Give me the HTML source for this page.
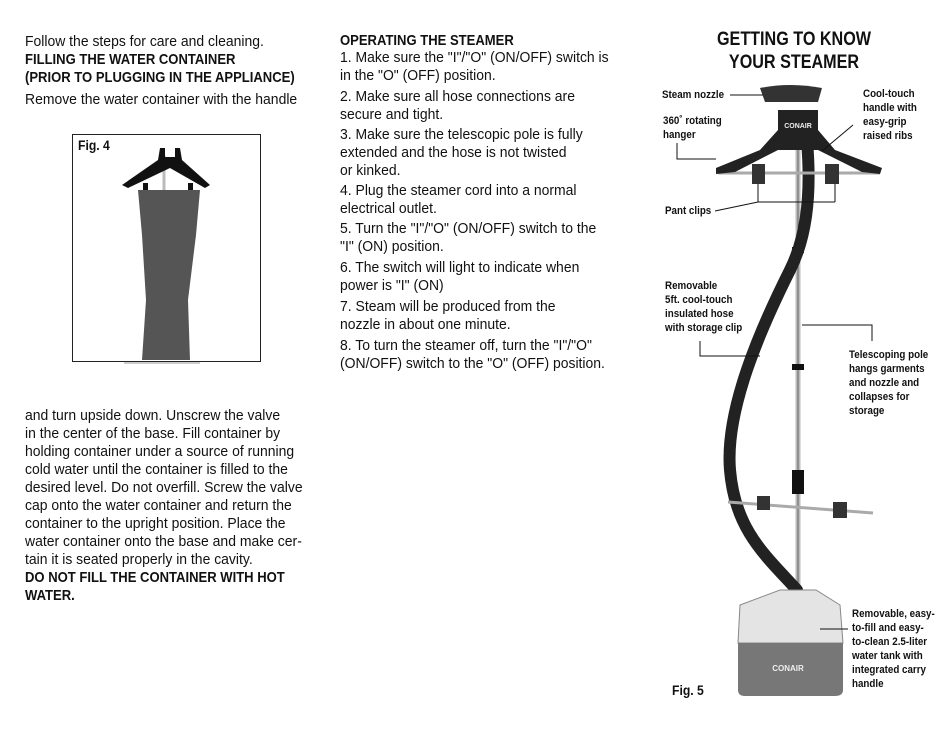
<!DOCTYPE html>
<html><head><meta charset="utf-8"><style>
body{margin:0;width:950px;height:732px;background:#fff;position:relative;overflow:hidden;font-family:"Liberation Sans",sans-serif;color:#111}
.t{position:absolute;font-size:15px;line-height:18px;white-space:nowrap;transform:scaleX(0.93);transform-origin:0 0}
.b{font-weight:bold;transform:scaleX(0.87)}
.s{position:absolute;font-size:11px;line-height:14px;font-weight:bold;white-space:nowrap;transform:scaleX(0.89);transform-origin:0 0}
</style></head><body>
<div class="t" style="left:25px;top:33px">Follow the steps for care and cleaning.</div>
<div class="t b" style="left:25px;top:51px">FILLING THE WATER CONTAINER<br>(PRIOR TO PLUGGING IN THE APPLIANCE)</div>
<div class="t" style="left:25px;top:91px">Remove the water container with the handle</div>
<div class="t" style="left:25px;top:407px">and turn upside down. Unscrew the valve<br>in the center of the base. Fill container by<br>holding container under a source of running<br>cold water until the container is filled to the<br>desired level. Do not overfill. Screw the valve<br>cap onto the water container and return the<br>container to the upright position. Place the<br>water container onto the base and make cer-<br>tain it is seated properly in the cavity.</div>
<div class="t b" style="left:25px;top:569px">DO NOT FILL THE CONTAINER WITH HOT<br>WATER.</div>

<div class="t b" style="left:340px;top:32px">OPERATING THE STEAMER</div>
<div class="t" style="left:340px;top:49px">1. Make sure the "I"/"O" (ON/OFF) switch is<br>in the "O" (OFF) position.</div>
<div class="t" style="left:340px;top:88px">2. Make sure all hose connections are<br>secure and tight.</div>
<div class="t" style="left:340px;top:126px">3. Make sure the telescopic pole is fully<br>extended and the hose is not twisted<br>or kinked.</div>
<div class="t" style="left:340px;top:182px">4. Plug the steamer cord into a normal<br>electrical outlet.</div>
<div class="t" style="left:340px;top:220px">5. Turn the "I"/"O" (ON/OFF) switch to the<br>"I" (ON) position.</div>
<div class="t" style="left:340px;top:259px">6. The switch will light to indicate when<br>power is "I" (ON)</div>
<div class="t" style="left:340px;top:298px">7. Steam will be produced from the<br>nozzle in about one minute.</div>
<div class="t" style="left:340px;top:337px">8. To turn the steamer off, turn the "I"/"O"<br>(ON/OFF) switch to the "O" (OFF) position.</div>

<div style="position:absolute;left:690px;top:28px;width:208px;text-align:center;font-size:19px;line-height:23px;font-weight:bold;transform:scaleX(0.85);transform-origin:center 0">GETTING TO KNOW<br>YOUR STEAMER</div>

<div style="position:absolute;left:72px;top:134px;width:187px;height:226px;border:1px solid #222"></div>
<div class="t b" style="left:78px;top:136px;font-size:14px">Fig. 4</div>

<svg width="950" height="732" style="position:absolute;left:0;top:0">
<line x1="164" y1="155" x2="164" y2="190" stroke="#bbb" stroke-width="3"/>
<path d="M122,185 L158,160 L160,148 L165,148 L165,157 L175,157 L175,148 L180,148 L182,160 L210,185 L205,188 L170,168 L128,188Z" fill="#111"/>
<rect x="143" y="183" width="5" height="8" fill="#111"/><rect x="188" y="183" width="5" height="8" fill="#111"/>
<path d="M138,190 L200,190 L196,235 L188,300 L190,360 L142,360 L146,300 L142,235Z" fill="#555"/>
<line x1="124" y1="363" x2="200" y2="363" stroke="#999"/>
<line x1="798" y1="141" x2="798" y2="696" stroke="#bbb" stroke-width="5"/>
<line x1="798" y1="141" x2="798" y2="696" stroke="#666" stroke-width="1"/>
<rect x="792" y="247" width="12" height="6" fill="#111"/>
<rect x="792" y="364" width="12" height="6" fill="#111"/>
<rect x="792" y="470" width="12" height="24" fill="#111"/>
<path d="M807,141 C812,200 805,240 790,270 C760,330 725,410 730,470 C735,530 765,555 797,590" fill="none" stroke="#222" stroke-width="12" stroke-linecap="round"/>
<line x1="718" y1="173" x2="880" y2="173" stroke="#aaa" stroke-width="3"/>
<path d="M716,168 L760,150 L778,130 L778,110 L818,110 L818,130 L835,150 L882,168 L880,174 L862,172 L818,150 L778,150 L735,172 L716,174Z" fill="#222"/>
<path d="M760,88 Q790,82 822,88 L818,102 L765,102Z" fill="#333"/>
<text x="798" y="128" font-size="7" fill="#eee" text-anchor="middle" font-family="Liberation Sans" font-weight="bold">CONAIR</text>
<rect x="752" y="164" width="13" height="20" fill="#333"/><rect x="825" y="164" width="14" height="20" fill="#333"/>
<line x1="728" y1="502" x2="873" y2="513" stroke="#aaa" stroke-width="3"/>
<rect x="757" y="496" width="13" height="14" fill="#333"/><rect x="833" y="502" width="14" height="16" fill="#333"/>
<path d="M780,590 L816,590 L840,605 L843,643 L738,643 L740,605Z" fill="#e4e4e4" stroke="#888"/>
<path d="M738,643 L843,643 L843,690 Q843,696 835,696 L745,696 Q738,696 738,690Z" fill="#777"/>
<text x="788" y="671" font-size="8" fill="#eee" text-anchor="middle" font-family="Liberation Sans" font-weight="bold">CONAIR</text>
<g stroke="#111" fill="none" stroke-width="1">
<path d="M730,95 H763"/>
<path d="M677,143 V159 H716"/>
<path d="M853,125 L822,151"/>
<path d="M715,211 L758,202 H835 M758,202 V184 M835,202 V184"/>
<path d="M700,341 V356 H760"/>
<path d="M802,325 H872 V341"/>
<path d="M820,629 H848"/>
</g>
</svg>
<div class="s" style="left:662px;top:88px">Steam nozzle</div>
<div class="s" style="left:663px;top:114px">360˚ rotating<br>hanger</div>
<div class="s" style="left:863px;top:87px">Cool-touch<br>handle with<br>easy-grip<br>raised ribs</div>
<div class="s" style="left:665px;top:204px">Pant clips</div>
<div class="s" style="left:665px;top:279px">Removable<br>5ft. cool-touch<br>insulated hose<br>with storage clip</div>
<div class="s" style="left:849px;top:348px">Telescoping pole<br>hangs garments<br>and nozzle and<br>collapses for<br>storage</div>
<div class="s" style="left:852px;top:607px">Removable, easy-<br>to-fill and easy-<br>to-clean 2.5-liter<br>water tank with<br>integrated carry<br>handle</div>
<div class="t b" style="left:672px;top:681px;font-size:14px">Fig. 5</div>
</body></html>
